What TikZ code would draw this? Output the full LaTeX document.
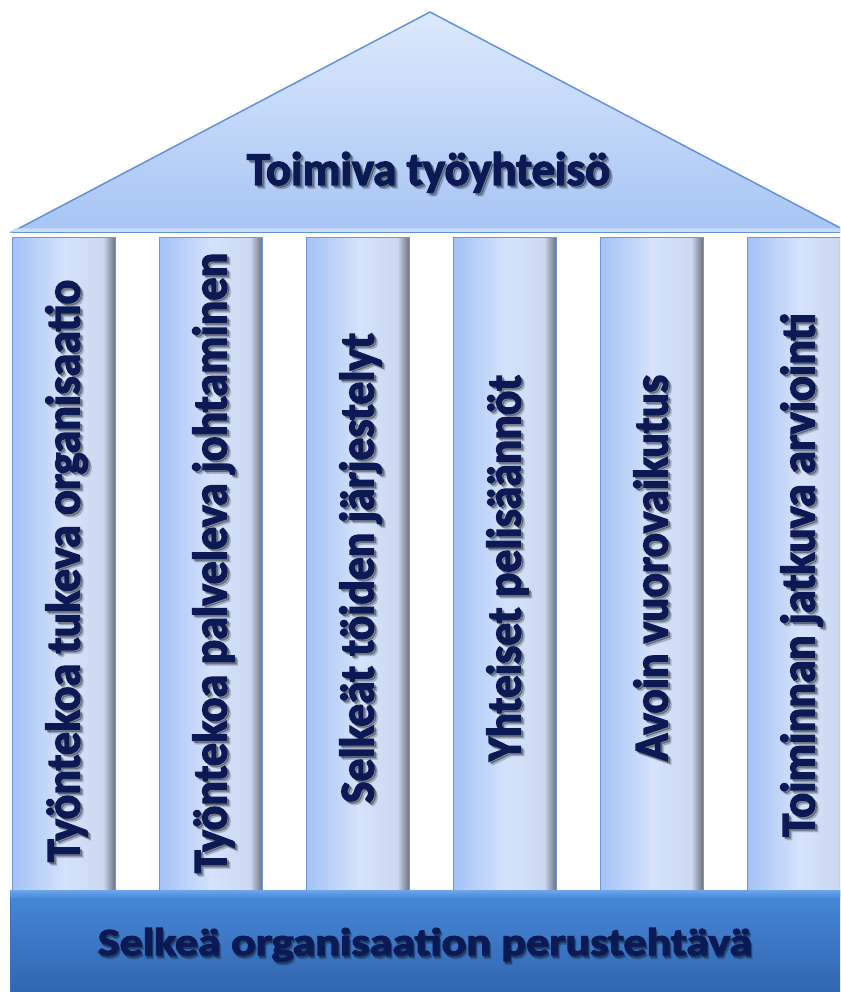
\documentclass[tikz,border=0pt]{standalone}
\usepackage{fontspec}
\setmainfont{Carlito}
\newfontfamily\heavyfont{Carlito}[FakeBold=3]
\usepackage{graphicx}

% palette
\definecolor{roofTop}{HTML}{DDE9FC}
\definecolor{roofBot}{HTML}{A6C4F4}
\definecolor{roofEdge}{HTML}{6193D6}
\definecolor{roofLip}{HTML}{C8DBF8}
\definecolor{pilA}{HTML}{A4C2F6}
\definecolor{pilB}{HTML}{D4E2FB}
\definecolor{pilC}{HTML}{CCD9F1}
\definecolor{pilD}{HTML}{9AA4B6}
\definecolor{pilE}{HTML}{6A7280}
\definecolor{pilEdge}{HTML}{6C98DA}
\definecolor{baseTop}{HTML}{4788D8}
\definecolor{baseBot}{HTML}{2F63AE}
\definecolor{baseLip}{HTML}{6AA4EA}
\definecolor{baseEdge}{HTML}{3A72C0}
\definecolor{navy}{HTML}{0B1A55}

% light-to-dark pillar body with a darkened right flank
\pgfdeclarehorizontalshading{pillarshade}{100bp}{%
  color(0bp)=(pilA); color(25bp)=(pilA); color(50bp)=(pilB);
  color(69bp)=(pilC); color(72bp)=(pilD); color(75bp)=(pilE);
  color(100bp)=(pilE)}

\newcommand{\fitlabel}[3]{\resizebox{#2}{#3}{\heavyfont\bfseries #1}}

\tikzset{
  pillar/.style={draw=pilEdge, line width=1pt, shading=pillarshade,
    minimum width=103pt, minimum height=658pt, inner sep=0pt},
  rooftop/.style={draw=roofEdge, line width=1.5pt, top color=roofTop,
    bottom color=roofBot},
  basebox/.style={draw=baseEdge, line width=1pt, top color=baseTop,
    bottom color=baseBot, minimum width=840pt, minimum height=110pt,
    inner sep=0pt},
  wordart/.style={text=navy, inner sep=0pt},
  wordshadow/.style={text=black, opacity=0.28, inner sep=0pt},
  wordshadowsoft/.style={text=black, opacity=0.14, inner sep=0pt}
}

\begin{document}
\begin{tikzpicture}[x=1pt, y=-1pt]
\useasboundingbox (0,0) rectangle (840,992);
\clip (0,0) rectangle (840,992);
\fill[white] (0,0) rectangle (840,992);

% roof
\path[rooftop] (12,232) -- (430,12) -- (848,232) -- cycle;
\fill[roofLip] (14,228.5) -- (842,228.5) -- (848,232) -- (12,232) -- cycle;
\draw[roofEdge, line width=1.2pt] (12,232.5) -- (848,232.5);
\node[wordshadowsoft, anchor=base] at (432,188.5)
  {\fitlabel{Toimiva työyhteisö}{363pt}{33pt}};
\node[wordshadow, anchor=base] at (430.5,187)
  {\fitlabel{Toimiva työyhteisö}{363pt}{33pt}};
\node[wordart, anchor=base] (roof) at (428.5,185)
  {\fitlabel{Toimiva työyhteisö}{363pt}{33pt}};

% pillars
\foreach \i/\lbl/\len/\mid in {
  1/Työntekoa tukeva organisaatio/582/571,
  2/Työntekoa palveleva johtaminen/620/563,
  3/Selkeät töiden järjestelyt/470/568,
  4/Yhteiset pelisäännöt/386/568,
  5/Avoin vuorovaikutus/386/568,
  6/Toiminnan jatkuva arviointi/523/575}
{
  \pgfmathsetmacro{\xl}{12+147*(\i-1)}
  \node[pillar, anchor=north west] (pillar\i) at (\xl,237) {};
  \node[wordshadowsoft, rotate=90, anchor=base] at (\xl+71,\mid+3.5)
    {\fitlabel{\lbl}{\len pt}{34pt}};
  \node[wordshadow, rotate=90, anchor=base] at (\xl+69.5,\mid+2)
    {\fitlabel{\lbl}{\len pt}{34pt}};
  \node[wordart, rotate=90, anchor=base] (label\i) at (\xl+67.5,\mid)
    {\fitlabel{\lbl}{\len pt}{34pt}};
}

% foundation
\node[basebox, anchor=north west] (base) at (10,890) {};
\shade[top color=baseLip, bottom color=baseTop] (10.5,890.5) rectangle (849,898);
\node[wordshadowsoft, anchor=base] at (427,958.5)
  {\fitlabel{Selkeä organisaation perustehtävä}{654pt}{27pt}};
\node[wordshadow, anchor=base] at (426,957)
  {\fitlabel{Selkeä organisaation perustehtävä}{654pt}{27pt}};
\node[wordart, anchor=base] (foundation) at (425,955)
  {\fitlabel{Selkeä organisaation perustehtävä}{654pt}{27pt}};
\end{tikzpicture}
\end{document}
